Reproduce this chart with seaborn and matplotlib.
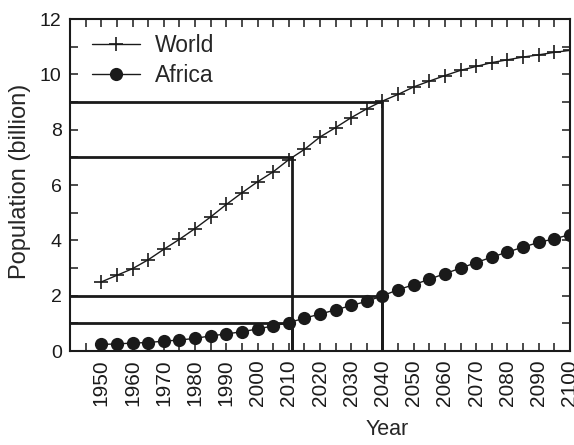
import matplotlib
matplotlib.use("Agg")
import matplotlib.pyplot as plt
import seaborn as sns
import pandas as pd
from matplotlib.ticker import MultipleLocator

years = list(range(1950, 2101, 5))
world = [2.50, 2.74, 2.98, 3.30, 3.68, 4.04, 4.43, 4.85, 5.30, 5.72, 6.12,
         6.48, 6.92, 7.29, 7.74, 8.08, 8.44, 8.76, 9.04, 9.28, 9.55, 9.76,
         9.96, 10.15, 10.29, 10.43, 10.53, 10.63, 10.71, 10.80, 10.87]
africa = [0.24, 0.26, 0.29, 0.31, 0.36, 0.40, 0.46, 0.55, 0.62, 0.70, 0.80,
          0.91, 1.03, 1.19, 1.34, 1.49, 1.65, 1.80, 2.00, 2.22, 2.40, 2.60,
          2.80, 3.00, 3.20, 3.40, 3.58, 3.76, 3.93, 4.06, 4.21]

# reference guide lines: (population, year)
guide_pop = [1, 2, 7, 9]
guide_year = [2011, 2040, 2011, 2040]

sns.set_theme(style="ticks")
plt.rcParams['font.family'] = ['Liberation Sans', 'DejaVu Sans']

fig = plt.figure(figsize=(5.74, 4.45), dpi=100)
ax = fig.add_axes([0.122, 0.211, 0.871, 0.746])

df_w = pd.DataFrame({"Year": years, "Population": world})
df_a = pd.DataFrame({"Year": years, "Population": africa})

xmin = 1940
dark = "#1a1a1a"
for p, yr in zip(guide_pop, guide_year):
    ax.plot([xmin, yr], [p, p], color=dark, lw=2.0, zorder=1)
for p, yr in zip(guide_pop, guide_year):
    ax.plot([yr, yr], [0, p], color=dark, lw=2.0, zorder=1)

sns.lineplot(data=df_w, x="Year", y="Population", ax=ax, color=dark,
             marker="+", markersize=9.5, markeredgewidth=1.2,
             markeredgecolor=dark, lw=1.0, label="World", zorder=3)
sns.lineplot(data=df_a, x="Year", y="Population", ax=ax, color=dark,
             marker="o", markersize=9.5, markeredgewidth=0, lw=1.0,
             label="Africa", zorder=3)

ax.set_xlim(1940, 2100)
ax.set_ylim(0, 12)
ax.xaxis.set_minor_locator(MultipleLocator(5))
ax.yaxis.set_major_locator(MultipleLocator(2))
ax.yaxis.set_minor_locator(MultipleLocator(1))
ax.set_xticks(list(range(1950, 2101, 10)))
ax.set_xticklabels([str(y) for y in range(1950, 2101, 10)], rotation=90)
ax.tick_params(which="both", direction="in", top=True, right=True,
               colors=dark, width=1.1, length=6)
ax.tick_params(axis="x", labelsize=15, pad=6)
ax.tick_params(axis="y", labelsize=14, pad=6)
ax.set_xlabel("Year", fontsize=15.5)
ax.set_ylabel("Population (billion)", fontsize=17)
ax.xaxis.set_label_coords(0.634, -0.205)
ax.yaxis.set_label_coords(-0.078, 0.512)
for s in ax.spines.values():
    s.set_color(dark)
    s.set_linewidth(1.5)
    s.set_visible(True)

leg = ax.legend(loc="upper left", frameon=False, fontsize=16.5,
                handlelength=2.1, handletextpad=0.65, labelspacing=0.3,
                borderaxespad=0.0, borderpad=0.0,
                bbox_to_anchor=(0.044, 0.955))

fig.savefig("out.png", dpi=100)
